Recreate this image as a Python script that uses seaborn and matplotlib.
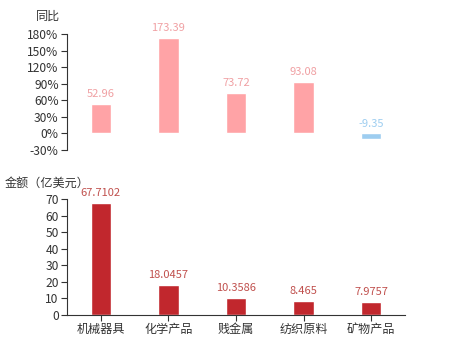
import matplotlib
matplotlib.use("Agg")
import matplotlib.pyplot as plt
import seaborn as sns
import pandas as pd

categories = ["机械器具", "化学产品", "贱金属", "纺织原料", "矿物产品"]
yoy = [52.96, 173.39, 73.72, 93.08, -9.35]
amount = [67.7102, 18.0457, 10.3586, 8.465, 7.9757]
amount_labels = ["67.7102", "18.0457", "10.3586", "8.465", "7.9757"]
yoy_ticks = [-30, 0, 30, 60, 90, 120, 150, 180]
amt_ticks = [0, 10, 20, 30, 40, 50, 60, 70]

sns.set_theme(style="white")
plt.rcParams['font.family'] = ['Noto Sans CJK SC', 'DejaVu Sans']
plt.rcParams['axes.unicode_minus'] = False

fig = plt.figure(figsize=(4.5, 3.5), dpi=100)
ax1 = fig.add_axes([67/450, 1-150/350, 338/450, 116/350])
ax2 = fig.add_axes([67/450, 1-315/350, 338/450, 116/350])

pink = "#FFA3A6"
pink_lab = "#F0A0A3"
blue = "#9DCDF0"
dark = "#C1272D"
lab_red = "#C0504D"
txt = "#333333"

df1 = pd.DataFrame({"cat": categories, "v": yoy})
cols1 = [pink if v >= 0 else blue for v in yoy]
sns.barplot(data=df1, x="cat", y="v", hue="cat", palette=cols1, legend=False,
            width=0.3, ax=ax1, saturation=1)
ax1.set_ylim(-30, 180)
ax1.set_xlim(-0.5, 4.5)
ax1.set_yticks(yoy_ticks)
ax1.set_yticklabels([f"{t}%" for t in yoy_ticks])
ax1.set_xticks([])
ax1.set_xlabel("")
ax1.set_ylabel("")
for s in ["top", "right", "bottom"]:
    ax1.spines[s].set_visible(False)
ax1.spines["left"].set_color(txt)
ax1.spines["left"].set_linewidth(0.8)
ax1.tick_params(axis="y", left=True, length=4, width=0.8, color=txt, labelsize=8.7, labelcolor=txt, pad=2)
for i, v in enumerate(yoy):
    c = pink_lab if v >= 0 else blue
    y = v + 9 if v >= 0 else 8
    ax1.text(i, y, f"{v:.2f}", ha="center", va="bottom", fontsize=8, color=c)
ax1.text(-0.056, 1.1, "同比", transform=ax1.transAxes, ha="center", va="bottom", fontsize=8.7, color=txt)

df2 = pd.DataFrame({"cat": categories, "v": amount})
sns.barplot(data=df2, x="cat", y="v", color=dark, width=0.3, ax=ax2, saturation=1)
ax2.set_ylim(0, 70)
ax2.set_xlim(-0.5, 4.5)
ax2.set_yticks(amt_ticks)
ax2.set_xlabel("")
ax2.set_ylabel("")
for s in ["top", "right"]:
    ax2.spines[s].set_visible(False)
for s in ["left", "bottom"]:
    ax2.spines[s].set_color(txt)
    ax2.spines[s].set_linewidth(0.8)
ax2.tick_params(axis="y", left=True, length=4, width=0.8, color=txt, labelsize=8.7, labelcolor=txt, pad=2)
ax2.tick_params(axis="x", bottom=True, length=4, width=0.8, color=txt, labelsize=8.7, labelcolor=txt, pad=2)
for i, (v, l) in enumerate(zip(amount, amount_labels)):
    ax2.text(i, v + 2.8, l, ha="center", va="bottom", fontsize=8, color=lab_red)
fig.text(5/450, 1-183/350, "金额（亿美元）", ha="left", va="center", fontsize=8.7, color=txt)

fig.savefig("out.png", dpi=100, facecolor="white")
